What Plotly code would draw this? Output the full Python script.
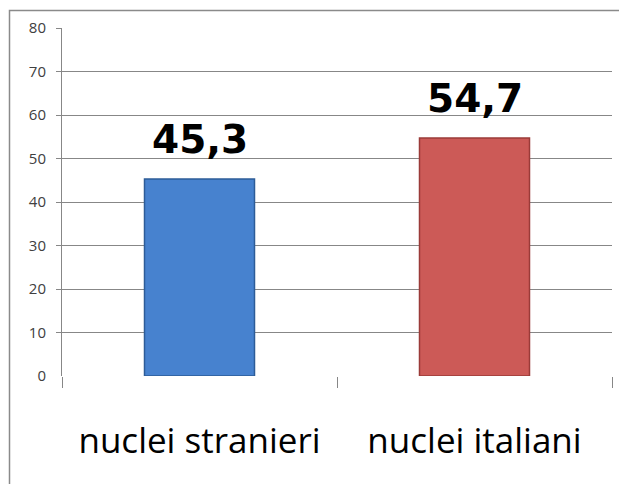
import plotly.graph_objects as go

categories = ["nuclei stranieri", "nuclei italiani"]
values = [45.3, 54.7]
value_labels = ["45,3", "54,7"]
y_ticks = [0, 10, 20, 30, 40, 50, 60, 70, 80]
grid_ticks = [10, 20, 30, 40, 50, 60, 70, 80]

fill_colors = ["#4782cf", "#cc5a57"]
edge_colors = ["#2d5c98", "#9a3b38"]

fig = go.Figure()
fig.add_trace(go.Bar(
    x=categories, y=values,
    marker=dict(color=fill_colors, line=dict(color=edge_colors, width=1.5)),
    width=0.4, showlegend=False, hoverinfo="skip",
))
fig.add_trace(go.Scatter(x=categories, y=values, yaxis="y2", mode="markers",
                         marker=dict(opacity=0), showlegend=False, hoverinfo="skip"))

for c, v, t in zip(categories, values, value_labels):
    fig.add_annotation(x=c, y=v, text=t, showarrow=False, yanchor="bottom", yshift=15,
                       font=dict(family="DejaVu Sans", size=39, color="black", weight="bold"))

grid_col = "#878787"
fig.update_layout(
    width=619, height=484,
    margin=dict(l=62, r=7, t=28, b=108),
    paper_bgcolor="white", plot_bgcolor="white",
    xaxis=dict(
        showgrid=False, zeroline=False, showline=False,
        ticks="outside", ticklen=11, tickcolor=grid_col, tickwidth=1,
        tickson="boundaries", ticklabelstandoff=41,
        tickfont=dict(family="Open Sans", size=35, color="black"),
    ),
    yaxis=dict(
        range=[0, 80], tickvals=y_ticks, showgrid=False, zeroline=False,
        showline=True, linecolor=grid_col, linewidth=1, ticks="",
        ticklabelstandoff=12,
        tickfont=dict(family="Open Sans", size=15, color="#404040"),
    ),
    yaxis2=dict(
        range=[0, 80], overlaying="y", side="left", tickvals=grid_ticks,
        showgrid=True, gridcolor=grid_col, gridwidth=1, zeroline=False,
        ticks="outside", ticklen=5, tickcolor=grid_col, showticklabels=False,
        showline=False,
    ),
    shapes=[dict(type="rect", xref="paper", yref="paper",
                 x0=(9.5 - 62) / 550, x1=1.2, y0=-0.6, y1=1 + (28 - 10.5) / 348,
                 line=dict(color="#8a8a8a", width=1.5), fillcolor="rgba(0,0,0,0)")],
)

fig.write_html("out.html", config={"displayModeBar": False},
               post_script="document.body.style.margin='0';")
